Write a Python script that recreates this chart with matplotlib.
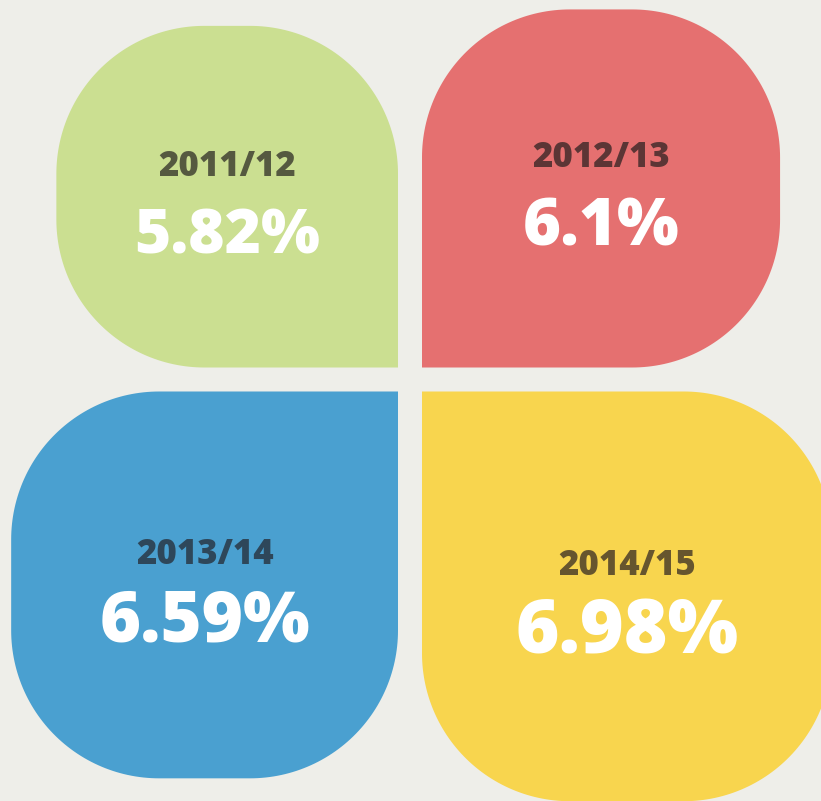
import numpy as np
import matplotlib
matplotlib.use("Agg")
import matplotlib.pyplot as plt
from matplotlib.patches import Polygon

# ---- data ----
periods = ["2011/12", "2012/13", "2013/14", "2014/15"]
rates = [5.82, 6.1, 6.59, 6.98]
value_labels = ["5.82%", "6.1%", "6.59%", "6.98%"]

# ---- style ----
fill_colors = ["#CBDF91", "#E57070", "#4AA0D0", "#F8D54E"]
label_colors = ["#555940", "#5C3535", "#2E475A", "#66552E"]
bg = "#EEEEE9"
directions = [(-1, -1), (1, -1), (-1, 1), (1, 1)]  # screen coords (y down)

W, H = 821, 801
center = (410, 379.5)
gap = 12
px_per_unit = 58.7
radius = 148
FONT = ["Open Sans", "DejaVu Sans"]

fig = plt.figure(figsize=(W / 100, H / 100), dpi=100)
fig.patch.set_facecolor(bg)
ax = fig.add_axes([0, 0, 1, 1])
ax.set_xlim(0, W)
ax.set_ylim(H, 0)
ax.axis("off")
ax.set_facecolor(bg)


def rounded_rect(x0, y0, x1, y1, radii, n=60):
    pts = []
    specs = [
        ((x0, y0), (1, 1), 180, 270),
        ((x1, y0), (-1, 1), 270, 360),
        ((x1, y1), (-1, -1), 0, 90),
        ((x0, y1), (1, -1), 90, 180),
    ]
    for i, ((cx, cy), (sx, sy), a0, a1) in enumerate(specs):
        r = radii[i]
        if r <= 0:
            pts.append((cx, cy))
            continue
        ccx, ccy = cx + sx * r, cy + sy * r
        t = np.radians(np.linspace(a0, a1, n))
        pts.extend(zip(ccx + r * np.cos(t), ccy + r * np.sin(t)))
    return np.array(pts)


for per, val, vlab, fc, lc, (dx, dy) in zip(periods, rates, value_labels,
                                              fill_colors, label_colors, directions):
    s = val * px_per_unit
    cx = center[0] + dx * gap
    cy = center[1] + dy * gap
    ox, oy = cx + dx * s, cy + dy * s
    x0, x1 = min(cx, ox), max(cx, ox)
    y0, y1 = min(cy, oy), max(cy, oy)
    corner_pts = [(x0, y0), (x1, y0), (x1, y1), (x0, y1)]
    radii = [0 if (abs(px - cx) < 1e-6 and abs(py - cy) < 1e-6) else radius
             for px, py in corner_pts]
    poly = Polygon(rounded_rect(x0, y0, x1, y1, radii), closed=True,
                   facecolor=fc, edgecolor="none")
    ax.add_patch(poly)
    mx, my = (x0 + x1) / 2, (y0 + y1) / 2
    ax.text(mx, my - 21, per, ha="center", va="baseline", fontsize=25,
            fontweight="heavy", family=FONT, color=lc)
    ax.text(mx, my + 57, vlab, ha="center", va="baseline",
            fontsize=0.131 * s, fontweight="heavy",
            family=FONT, color="white")

fig.savefig("out.png", dpi=100, facecolor=bg)
